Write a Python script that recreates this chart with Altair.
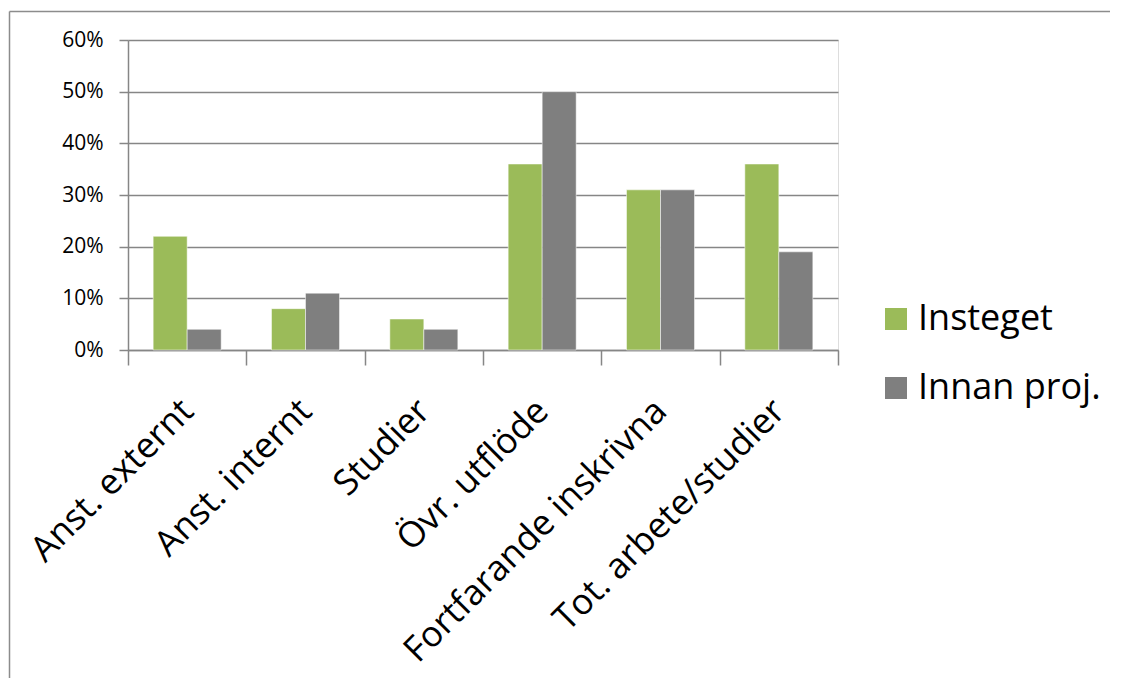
import altair as alt
import pandas as pd

categories = ["Anst. externt", "Anst. internt", "Studier", "Övr. utflöde",
              "Fortfarande inskrivna", "Tot. arbete/studier"]
series = ["Insteget", "Innan proj."]
insteget = [0.22, 0.08, 0.06, 0.36, 0.31, 0.36]
innan = [0.04, 0.11, 0.04, 0.50, 0.31, 0.19]
colors = ["#9BBB59", "#7F7F7F"]

rows = []
for c, a, b in zip(categories, insteget, innan):
    rows.append({"kategori": c, "serie": series[0], "värde": a})
    rows.append({"kategori": c, "serie": series[1], "värde": b})
df = pd.DataFrame(rows)

FONT = "Open Sans"
GRID = "#868686"

bars = alt.Chart(df).mark_bar(stroke="white", strokeWidth=0.5).encode(
    x=alt.X("kategori:N", sort=categories, title=None,
            scale=alt.Scale(paddingInner=0, paddingOuter=0),
            axis=alt.Axis(labelAngle=-45, labelAlign="right", labelBaseline="middle",
                          labelFontSize=35.5, labelFont=FONT, labelColor="#000000",
                          labelPadding=40, tickBand="extent", tickSize=15,
                          tickColor=GRID, tickWidth=1.5, domainColor=GRID,
                          domainWidth=1.5, grid=False, labelLimit=0)),
    xOffset=alt.XOffset("serie:N", sort=series,
                        scale=alt.Scale(paddingInner=0, paddingOuter=0.74)),
    y=alt.Y("värde:Q", title=None,
            scale=alt.Scale(domain=[0, 0.6], nice=False),
            axis=alt.Axis(format=".0%", values=[0, 0.1, 0.2, 0.3, 0.4, 0.5, 0.6],
                          labelFontSize=21, labelFont=FONT, labelColor="#000000",
                          labelPadding=16, tickSize=9, tickColor=GRID, tickWidth=1.5,
                          domainColor=GRID, domainWidth=1.5, gridColor=GRID,
                          gridWidth=1.5, grid=True)),
    color=alt.Color("serie:N", sort=series, title=None,
                    scale=alt.Scale(domain=series, range=colors),
                    legend=alt.Legend(orient="none", legendX=750, legendY=261,
                                      symbolType="square", symbolSize=484,
                                      symbolStrokeWidth=0, labelFontSize=36,
                                      labelFont=FONT, labelColor="#000000",
                                      labelOffset=4, rowPadding=33, labelLimit=0)),
)

frame = alt.Chart(alt.Data(values=[{"a": 1}])).mark_rule(color="#8C8C8C", strokeWidth=1.5).encode(
    x=alt.value(-118.5), x2=alt.value(990), y=alt.value(-28.5))
frame_left = alt.Chart(alt.Data(values=[{"a": 1}])).mark_rule(color="#8C8C8C", strokeWidth=1.5).encode(
    x=alt.value(-118.5), y=alt.value(-28.5), y2=alt.value(650))

chart = alt.layer(bars, frame, frame_left).properties(
    width=710, height=310,
    padding={"left": 120, "top": 32, "right": 272, "bottom": 328},
    autosize=alt.AutoSizeParams(type="none"),
).configure_view(stroke=None).configure(background="white")

chart.save("out.html", embed_options={"renderer": "svg", "actions": False})
